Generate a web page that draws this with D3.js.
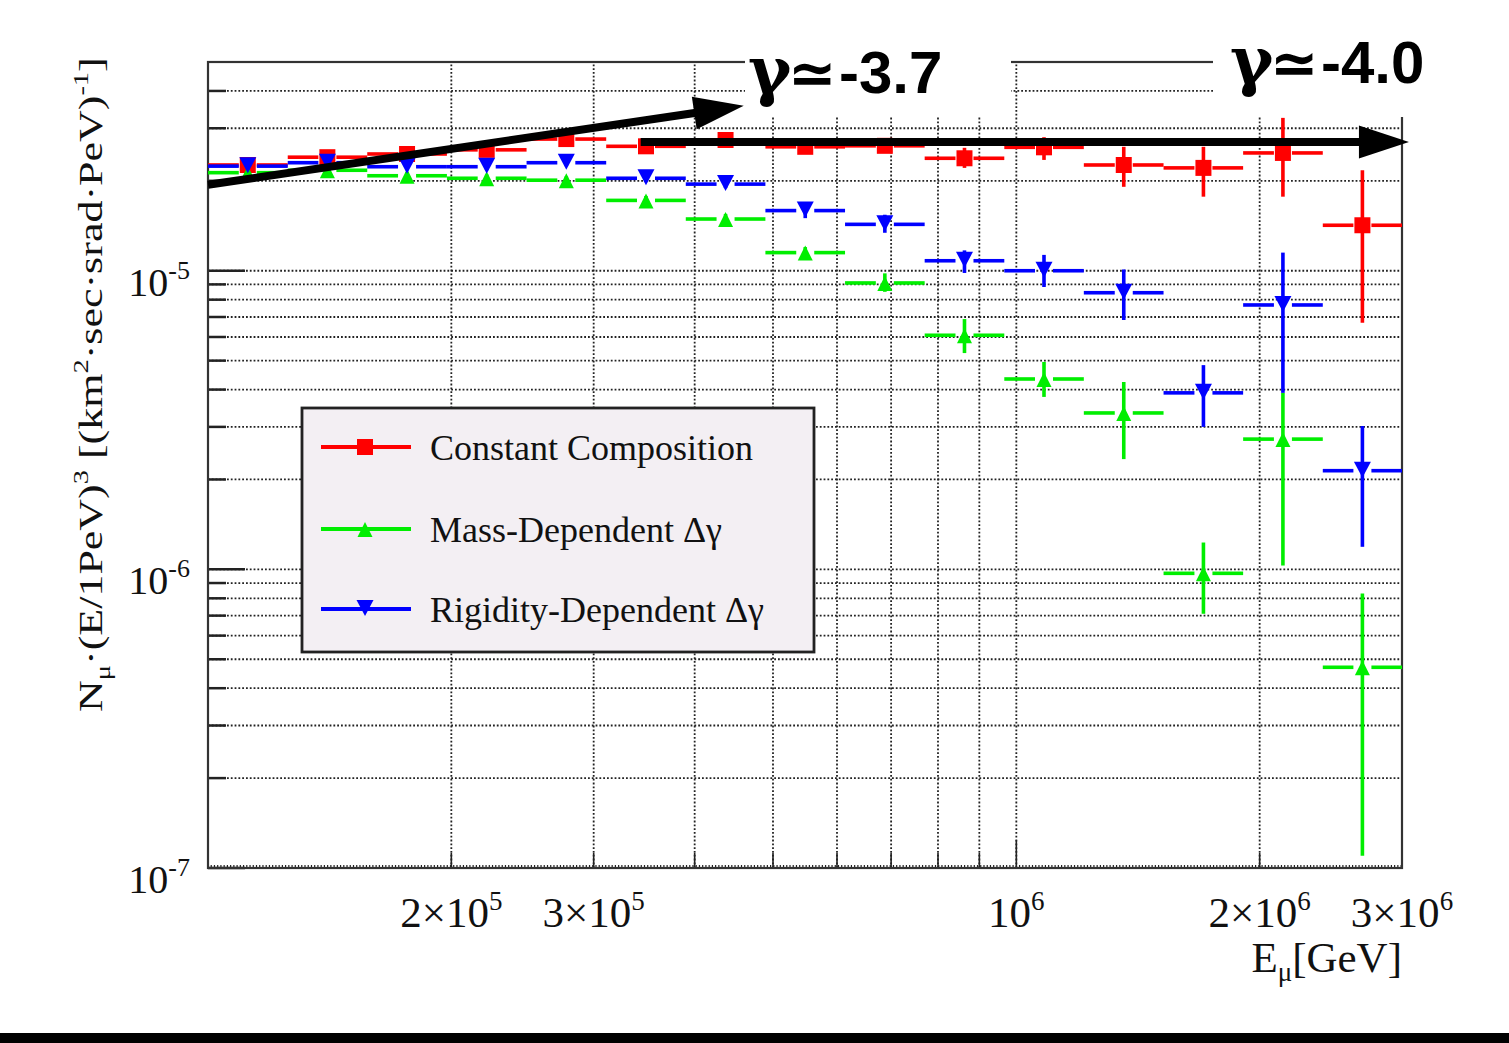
<!DOCTYPE html>
<html>
<head>
<meta charset="utf-8">
<script src="https://cdn.jsdelivr.net/npm/d3@7/dist/d3.min.js"></script>
<style>
body { margin: 0; background: #fff; }
svg { display: block; }
</style>
</head>
<body>
<script>
// energy bins (GeV)
var binLow = [1.000e5, 1.255e5, 1.574e5, 1.975e5, 2.478e5, 3.109e5, 3.900e5, 4.893e5, 6.139e5, 7.702e5, 9.663e5, 1.212e6, 1.521e6, 1.908e6, 2.394e6]
var binHigh = [1.255e5, 1.574e5, 1.975e5, 2.478e5, 3.109e5, 3.900e5, 4.893e5, 6.139e5, 7.702e5, 9.663e5, 1.212e6, 1.521e6, 1.908e6, 2.394e6, 3.000e6]
var binMid = [1.120e5, 1.405e5, 1.763e5, 2.212e5, 2.775e5, 3.482e5, 4.368e5, 5.481e5, 6.876e5, 8.627e5, 1.082e6, 1.358e6, 1.704e6, 2.137e6, 2.680e6]

// constant composition
var constVal = [2.26e-5, 2.40e-5, 2.46e-5, 2.54e-5, 2.76e-5, 2.61e-5, 2.74e-5, 2.60e-5, 2.62e-5, 2.38e-5, 2.59e-5, 2.26e-5, 2.21e-5, 2.48e-5, 1.42e-5]
var constLo = [2.20e-5, 2.34e-5, 2.40e-5, 2.47e-5, 2.69e-5, 2.53e-5, 2.65e-5, 2.50e-5, 2.50e-5, 2.21e-5, 2.35e-5, 1.91e-5, 1.77e-5, 1.77e-5, 6.7e-6]
var constHi = [2.32e-5, 2.46e-5, 2.52e-5, 2.61e-5, 2.84e-5, 2.69e-5, 2.84e-5, 2.70e-5, 2.74e-5, 2.58e-5, 2.80e-5, 2.60e-5, 2.60e-5, 3.25e-5, 2.17e-5]

// mass-dependent
var massVal = [2.13e-5, 2.17e-5, 2.08e-5, 2.04e-5, 2.01e-5, 1.72e-5, 1.49e-5, 1.15e-5, 9.1e-6, 6.08e-6, 4.34e-6, 3.34e-6, 9.7e-7, 2.73e-6, 4.7e-7]
var massLo = [2.08e-5, 2.11e-5, 2.02e-5, 1.98e-5, 1.95e-5, 1.66e-5, 1.43e-5, 1.10e-5, 8.5e-6, 5.30e-6, 3.78e-6, 2.34e-6, 7.1e-7, 1.03e-6, 1.1e-7]
var massHi = [2.18e-5, 2.23e-5, 2.14e-5, 2.10e-5, 2.07e-5, 1.78e-5, 1.55e-5, 1.20e-5, 9.8e-6, 6.89e-6, 4.95e-6, 4.24e-6, 1.23e-6, 3.90e-6, 8.3e-7]

// rigidity-dependent
var rigVal = [2.24e-5, 2.30e-5, 2.23e-5, 2.23e-5, 2.30e-5, 2.04e-5, 1.95e-5, 1.59e-5, 1.43e-5, 1.08e-5, 1.00e-5, 8.44e-6, 3.90e-6, 7.68e-6, 2.14e-6]
var rigLo = [2.18e-5, 2.24e-5, 2.17e-5, 2.17e-5, 2.24e-5, 1.98e-5, 1.89e-5, 1.50e-5, 1.34e-5, 9.83e-6, 8.82e-6, 6.84e-6, 3.00e-6, 3.90e-6, 1.19e-6]
var rigHi = [2.30e-5, 2.36e-5, 2.29e-5, 2.29e-5, 2.36e-5, 2.10e-5, 2.01e-5, 1.68e-5, 1.54e-5, 1.17e-5, 1.13e-5, 1.01e-5, 4.83e-6, 1.15e-5, 3.02e-6]

var legendNames = ["Constant Composition", "Mass-Dependent \u0394\u03b3", "Rigidity-Dependent \u0394\u03b3"]
var xLabelVals = [2e5, 3e5, 1e6, 2e6, 3e6]
var yLabelVals = [1e-5, 1e-6, 1e-7]

// slope arrows, in data units: [E start, N start, E end, N end]
var arrowFits = [[1.0e5, 1.94e-5, 4.60e5, 3.57e-5], [3.43e5, 2.70e-5, 3.06e6, 2.70e-5]]
var arrowTexts = ["-3.7", "-4.0"]

const width = 1509
const height = 1043
const serif = "'Liberation Serif', 'Times New Roman', serif"

var svg = d3.select("body").append("svg").attr("width", width).attr("height", height)
svg.append("rect").attr("width", width).attr("height", height).attr("fill", "white")

var x = d3.scaleLog().domain([1e5, 3e6]).range([208, 1402])
var y = d3.scaleLog().domain([1e-7, 5e-5]).range([868, 62])
var x0 = 208, x1 = 1402, y0 = 868, y1 = 62

// grid
var yGrid = y.ticks().filter(d => d > 1e-7 * 1.01 && d < 5e-5 * 0.99)
var xGrid = x.ticks().filter(d => d > 1e5 * 1.01 && d < 3e6 * 0.99)

svg.append("g").selectAll("line").data(yGrid).enter().append("line")
    .attr("x1", x0).attr("x2", x1)
    .attr("y1", d => y(d)).attr("y2", d => y(d))
    .attr("stroke", "#222").attr("stroke-width", 1.8).attr("stroke-dasharray", "1.8,2")

svg.append("g").selectAll("line").data(xGrid).enter().append("line")
    .attr("x1", d => x(d)).attr("x2", d => x(d))
    .attr("y1", y0).attr("y2", y1)
    .attr("stroke", "#222").attr("stroke-width", 1.8).attr("stroke-dasharray", "1.8,2")

// axis ticks
var yTicks = y.ticks().filter(d => d < 5e-5 * 0.99)
svg.append("g").selectAll("line").data(yTicks).enter().append("line")
    .attr("x1", x0)
    .attr("x2", d => yLabelVals.indexOf(d) >= 0 ? x0 + 37 : x0 + 18)
    .attr("y1", d => y(d)).attr("y2", d => y(d))
    .attr("stroke", "#222").attr("stroke-width", 2.5)

var fine = d3.range(5, Math.log10(3e6), 0.004).map(d => Math.pow(10, d))
svg.append("g").selectAll("line").data(fine).enter().append("line")
    .attr("x1", d => x(d)).attr("x2", d => x(d))
    .attr("y1", y0).attr("y2", y0 - 3)
    .attr("stroke", "#222").attr("stroke-width", 1.2)

svg.append("g").selectAll("line").data(xGrid).enter().append("line")
    .attr("x1", d => x(d)).attr("x2", d => x(d))
    .attr("y1", y0).attr("y2", d => d == 1e6 ? y0 - 28 : y0 - 15)
    .attr("stroke", "#222").attr("stroke-width", 1.6)

// frame
svg.append("rect").attr("x", x0).attr("y", y1).attr("width", x1 - x0).attr("height", y0 - y1)
    .attr("fill", "none").attr("stroke", "#333").attr("stroke-width", 2.2)

// tick labels
function expParts(v) {
    var e = Math.floor(Math.log10(v) + 1e-9)
    var m = Math.round(v / Math.pow(10, e))
    return [m == 1 ? "10" : m + "\u00d710", String(e)]
}

var xl = svg.append("g").selectAll("text").data(xLabelVals).enter().append("text")
    .attr("x", d => x(d)).attr("y", 927)
    .attr("text-anchor", "middle")
    .attr("font-family", serif).attr("font-size", 43).attr("fill", "#111")
xl.append("tspan").text(d => expParts(d)[0])
xl.append("tspan").attr("dy", -17).attr("font-size", 27).text(d => expParts(d)[1])

var yl = svg.append("g").selectAll("text").data(yLabelVals).enter().append("text")
    .attr("x", 190).attr("y", d => y(d) + 25)
    .attr("text-anchor", "end")
    .attr("font-family", serif).attr("font-size", 40).attr("fill", "#111")
yl.append("tspan").text(d => expParts(d)[0])
yl.append("tspan").attr("dy", -17).attr("font-size", 26).text(d => expParts(d)[1])

// axis titles
var xt = svg.append("text").attr("x", 1402).attr("y", 972).attr("text-anchor", "end")
    .attr("font-family", serif).attr("font-size", 43).attr("fill", "#111")
xt.append("tspan").text("E")
xt.append("tspan").attr("dy", 9).attr("font-size", 27).text("\u03bc")
xt.append("tspan").attr("dy", -9).text("[GeV]")

var yt = svg.append("text").attr("font-family", serif).attr("font-size", 34).attr("fill", "#111")
var ytParts = [["N", 0, 34], ["\u03bc", 8, 22], ["\u00b7(E/1PeV)", -8, 34], ["3", -14, 22], [" [(km", 14, 34],
    ["2", -14, 22], ["\u00b7sec\u00b7srad\u00b7PeV)", 14, 34], ["-1", -14, 22], ["]", 14, 34]]
ytParts.forEach(p => yt.append("tspan").attr("dy", p[1]).attr("font-size", p[2]).text(p[0]))
var ytLen = yt.node().getComputedTextLength()
yt.attr("transform", "translate(102,712) rotate(-90) scale(" + (655 / ytLen) + ",1)")

// data
var series = [
    {color: "#ff0000", shape: "square", val: constVal, lo: constLo, hi: constHi},
    {color: "#00ee00", shape: "up", val: massVal, lo: massLo, hi: massHi},
    {color: "#0000ff", shape: "down", val: rigVal, lo: rigLo, hi: rigHi}
]

function marker(shape, cx, cy) {
    if (shape == "square") return "M" + (cx - 8) + "," + (cy - 8) + "h16v16h-16Z"
    if (shape == "up") return "M" + cx + "," + (cy - 7) + "L" + (cx + 7.5) + "," + (cy + 8) + "L" + (cx - 7.5) + "," + (cy + 8) + "Z"
    return "M" + (cx - 8.5) + "," + (cy - 9) + "L" + (cx + 8.5) + "," + (cy - 9) + "L" + cx + "," + (cy + 7) + "Z"
}

series.forEach(function(s) {
    var g = svg.append("g")
    var pts = s.val.map((v, i) => i)
    var gap = 9
    g.selectAll(".hl").data(pts).enter().append("line")
        .attr("x1", i => x(binLow[i])).attr("x2", i => x(binMid[i]) - gap)
        .attr("y1", i => y(s.val[i])).attr("y2", i => y(s.val[i]))
        .attr("stroke", s.color).attr("stroke-width", 3.6)
    g.selectAll(".hr").data(pts).enter().append("line")
        .attr("x1", i => x(binMid[i]) + gap).attr("x2", i => x(binHigh[i]))
        .attr("y1", i => y(s.val[i])).attr("y2", i => y(s.val[i]))
        .attr("stroke", s.color).attr("stroke-width", 3.6)
    g.selectAll(".v").data(pts).enter().append("line")
        .attr("x1", i => x(binMid[i])).attr("x2", i => x(binMid[i]))
        .attr("y1", i => y(s.hi[i])).attr("y2", i => y(s.lo[i]))
        .attr("stroke", s.color).attr("stroke-width", 3.6)
    g.selectAll("path").data(pts).enter().append("path")
        .attr("d", i => marker(s.shape, x(binMid[i]), y(s.val[i])))
        .attr("fill", s.color)
})

// legend
var lg = svg.append("g")
lg.append("rect").attr("x", 302).attr("y", 408).attr("width", 512).attr("height", 244)
    .attr("fill", "#f3eff3").attr("stroke", "#222").attr("stroke-width", 2.8)
series.forEach(function(s, i) {
    var ly = [447, 529, 609][i]
    lg.append("line").attr("x1", 321).attr("x2", 411).attr("y1", ly).attr("y2", ly)
        .attr("stroke", s.color).attr("stroke-width", 4)
    lg.append("path").attr("d", marker(s.shape, 365, ly)).attr("fill", s.color)
    lg.append("text").attr("x", 430).attr("y", ly + 13)
        .attr("font-family", serif).attr("font-size", 36).attr("fill", "#111")
        .text(legendNames[i])
})

// white patches behind the slope labels
svg.append("rect").attr("x", 745).attr("y", 0).attr("width", 266).attr("height", 117).attr("fill", "white")
svg.append("rect").attr("x", 1213).attr("y", 0).attr("width", 296).attr("height", 117).attr("fill", "white")

// slope arrows
arrowFits.forEach(function(a) {
    var ax = x(a[0]), ay = y(a[1]), bx = x(a[2]), by = y(a[3])
    var len = Math.hypot(bx - ax, by - ay)
    var ux = (bx - ax) / len, uy = (by - ay) / len
    var hl = 50, hw = 16.5
    var cx = bx - ux * hl, cy = by - uy * hl
    svg.append("line").attr("x1", ax).attr("y1", ay).attr("x2", cx + ux * 2).attr("y2", cy + uy * 2)
        .attr("stroke", "black").attr("stroke-width", 8)
    svg.append("path")
        .attr("d", "M" + bx + "," + by + "L" + (cx - uy * hw) + "," + (cy + ux * hw) + "L" + (cx + uy * hw) + "," + (cy - ux * hw) + "Z")
        .attr("fill", "black")
})

// slope labels
var labelPos = [[748, 93], [1230, 83]]
arrowTexts.forEach(function(t, i) {
    var px = labelPos[i][0], py = labelPos[i][1]
    svg.append("text").attr("x", px).attr("y", py)
        .attr("font-family", "'DejaVu Serif', serif").attr("font-weight", "bold").attr("font-size", 66).text("\u03b3")
    svg.append("text").attr("x", px + 40).attr("y", py)
        .attr("font-family", "'DejaVu Sans', sans-serif").attr("font-weight", "bold").attr("font-size", 58).text("\u2243")
    svg.append("text").attr("x", px + 91).attr("y", py)
        .attr("font-family", "'Liberation Sans', Arial, sans-serif").attr("font-weight", "bold").attr("font-size", 60).text(t)
})

// black strip at the bottom of the picture
svg.append("rect").attr("x", 0).attr("y", 1033).attr("width", width).attr("height", 10).attr("fill", "black")
</script>
</body>
</html>
